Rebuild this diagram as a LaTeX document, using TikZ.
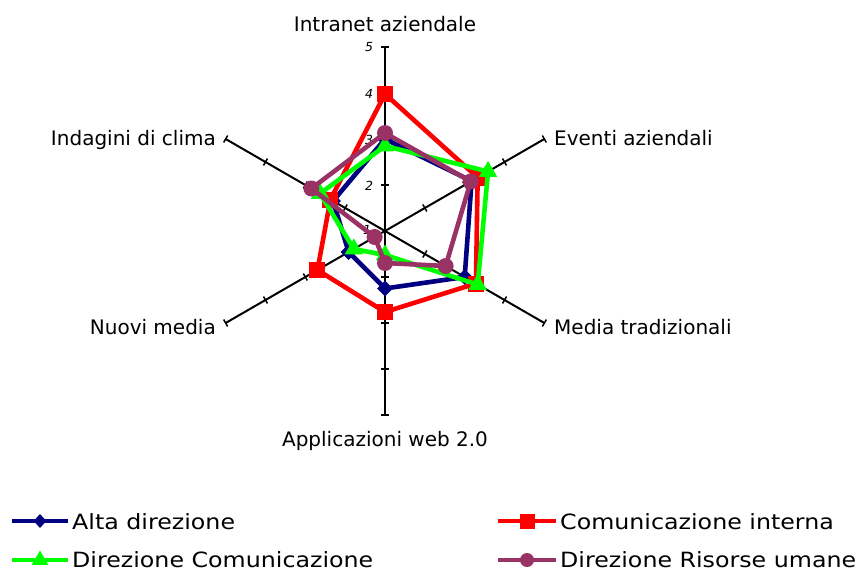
\documentclass[tikz,border=0pt]{standalone}
\usepackage{fontspec}
\setmainfont{DejaVu Sans}
\newfontfamily\legfont[FakeStretch=1.13]{DejaVu Sans}
\usetikzlibrary{shapes.geometric}
\definecolor{sernavy}{RGB}{0,0,128}
\definecolor{serred}{RGB}{255,0,0}
\definecolor{sergreen}{RGB}{0,255,0}
\definecolor{serpurple}{RGB}{153,51,102}
\begin{document}
\begin{tikzpicture}[x=1pt,y=1pt,
  axisline/.style={line width=2pt,black},
  tickmark/.style={line width=1.5pt,black},
  serline/.style={line width=4.6pt,line join=round},
  bmark/.style={diamond,fill=sernavy,inner sep=0pt,minimum width=16pt,minimum height=16pt},
  rmark/.style={rectangle,fill=serred,inner sep=0pt,minimum size=16pt},
  gmark/.style={regular polygon,regular polygon sides=3,fill=sergreen,inner sep=0pt,minimum size=21pt},
  pmark/.style={circle,fill=serpurple,inner sep=0pt,minimum size=16pt},
  catlabel/.style={font=\fontsize{20}{24}\selectfont,inner sep=0pt},
  ticklabel/.style={font=\fontsize{12.5}{14}\selectfont\itshape,inner sep=0pt},
  legtext/.style={font=\legfont\fontsize{21}{25}\selectfont,inner sep=0pt}]
\useasboundingbox (-385,-342) rectangle (473,231);
\coordinate (O) at (0,0);
% axes
\foreach \a/\n in {90/ax1,30/ax2,-30/ax3,-90/ax4,210/ax5,150/ax6}{
  \coordinate (\n) at (\a:184);
  \draw[axisline] (O) -- (\n);
  \foreach \r in {46,92,138,184}
    \draw[tickmark] (\a:\r) ++(\a+90:4) -- ++(\a-90:8);
}
% tick labels
\node[ticklabel] (t5) at (-16,184) {5};
\node[ticklabel] (t4) at (-16,137) {4};
\node[ticklabel] (t3) at (-16,91) {3};
\node[ticklabel] (t2) at (-16,45) {2};
\node[ticklabel] (t1) at (-18,1) {1};
% category labels
\node[catlabel,anchor=base] (c1) at (0,199.3) {Intranet aziendale};
\node[catlabel,anchor=base west] (c2) at (169,86) {Eventi aziendali};
\node[catlabel,anchor=base west] (c3) at (169,-103) {Media tradizionali};
\node[catlabel,anchor=base] (c4) at (0,-215.7) {Applicazioni web 2.0};
\node[catlabel,anchor=base east] (c5) at (-169,-103) {Nuovi media};
\node[catlabel,anchor=base east] (c6) at (-169,86) {Indagini di clima};
% Alta direzione
\path (90:92) coordinate (b1) (30:100) coordinate (b2) (-30:92) coordinate (b3)
      (-90:57.5) coordinate (b4) (210:42) coordinate (b5) (150:60) coordinate (b6);
\draw[serline,sernavy] (b1) -- (b2) -- (b3) -- (b4) -- (b5) -- (b6) -- cycle;
\foreach \i in {1,...,6} \node[bmark] (bm\i) at (b\i) {};
% Comunicazione interna
\path (90:137) coordinate (r1) (30:107) coordinate (r2) (-30:105) coordinate (r3)
      (-90:81) coordinate (r4) (210:78) coordinate (r5) (150:63) coordinate (r6);
\draw[serline,serred] (r1) -- (r2) -- (r3) -- (r4) -- (r5) -- (r6) -- cycle;
\foreach \i in {1,...,6} \node[rmark] (rm\i) at (r\i) {};
% Direzione Comunicazione
\path (90:85) coordinate (g1) (30:119) coordinate (g2) (-30:107) coordinate (g3)
      (-90:24) coordinate (g4) (210:36) coordinate (g5) (150:75) coordinate (g6);
\draw[serline,sergreen] (g1) -- (g2) -- (g3) -- (g4) -- (g5) -- (g6) -- cycle;
\foreach \i in {1,...,6} \node[gmark] (gm\i) at (g\i) {};
% Direzione Risorse umane
\path (90:98) coordinate (p1) (30:99) coordinate (p2) (-30:70) coordinate (p3)
      (-90:32) coordinate (p4) (210:12) coordinate (p5) (150:85) coordinate (p6);
\draw[serline,serpurple] (p1) -- (p2) -- (p3) -- (p4) -- (p5) -- (p6) -- cycle;
\foreach \i in {1,...,6} \node[pmark] (pm\i) at (p\i) {};
% legend
\coordinate (l1a) at (-373,-290); \coordinate (l1b) at (-317,-290);
\draw[serline,sernavy] (l1a) -- (l1b);
\node[bmark,minimum width=13pt,minimum height=14pt] (lm1) at (-345,-290) {};
\node[legtext,anchor=base west] (lt1) at (-313,-298.3) {Alta direzione};
\coordinate (l2a) at (113,-290); \coordinate (l2b) at (171,-290);
\draw[serline,serred] (l2a) -- (l2b);
\node[rmark,minimum size=15pt] (lm2) at (142,-290) {};
\node[legtext,anchor=base west] (lt2) at (175,-298.3) {Comunicazione interna};
\coordinate (l3a) at (-373,-329); \coordinate (l3b) at (-317,-329);
\draw[serline,sergreen] (l3a) -- (l3b);
\node[gmark,minimum size=19pt] (lm3) at (-345,-329) {};
\node[legtext,anchor=base west] (lt3) at (-313,-336.7) {Direzione Comunicazione};
\coordinate (l4a) at (113,-329); \coordinate (l4b) at (171,-329);
\draw[serline,serpurple] (l4a) -- (l4b);
\node[pmark,minimum size=14pt] (lm4) at (142,-329) {};
\node[legtext,anchor=base west] (lt4) at (175,-336.7) {Direzione Risorse umane};
\end{tikzpicture}
\end{document}
